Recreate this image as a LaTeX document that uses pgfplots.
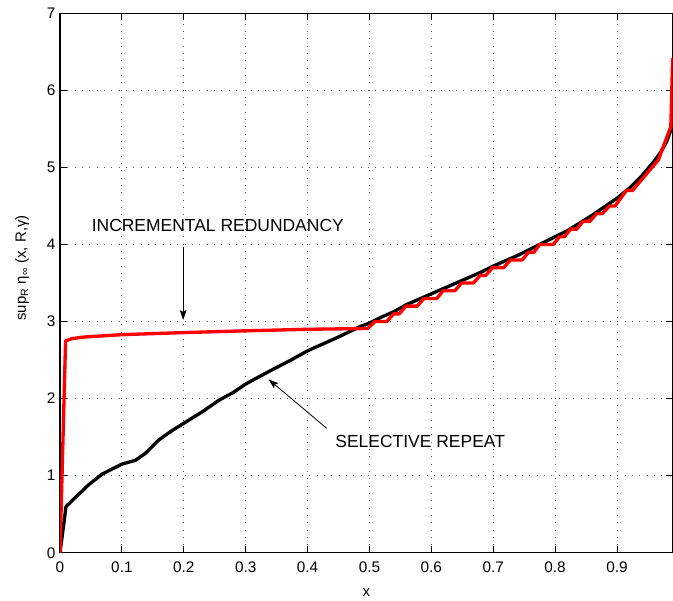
\documentclass[border=0pt]{standalone}
\usepackage{fontspec}
\setmainfont{Liberation Sans}
\usepackage{pgfplots}
\pgfplotsset{compat=1.18}
\usetikzlibrary{arrows.meta}

% selective repeat throughput bound
\pgfplotstableread{
x      y
0      0
0.0097 0.60
0.024  0.71
0.046  0.88
0.068  1.02
0.085  1.09
0.100  1.15
0.122  1.20
0.138  1.29
0.159  1.46
0.180  1.58
0.200  1.68
0.230  1.83
0.257  1.98
0.280  2.08
0.300  2.19
0.337  2.35
0.373  2.50
0.400  2.62
0.450  2.80
0.485  2.935
0.500  2.98
0.520  3.06
0.540  3.13
0.560  3.22
0.580  3.29
0.600  3.36
0.620  3.43
0.640  3.50
0.660  3.57
0.680  3.64
0.700  3.72
0.720  3.79
0.740  3.86
0.760  3.94
0.780  4.02
0.800  4.10
0.820  4.18
0.840  4.28
0.860  4.38
0.880  4.49
0.900  4.60
0.920  4.73
0.940  4.89
0.960  5.08
0.970  5.19
0.980  5.33
0.990  5.55
}\srdata

% incremental redundancy throughput bound
\pgfplotstableread{
x      y
0      0
0.009  2.75
0.020  2.78
0.040  2.80
0.100  2.83
0.200  2.857
0.300  2.88
0.400  2.90
0.497  2.91
0.509  3.0
0.528  3.0
0.539  3.1
0.548  3.1
0.559  3.2
0.577  3.2
0.588  3.3
0.609  3.3
0.619  3.4
0.638  3.4
0.649  3.5
0.668  3.5
0.679  3.6
0.688  3.6
0.699  3.7
0.717  3.7
0.728  3.8
0.747  3.8
0.757  3.9
0.766  3.9
0.775  4.0
0.797  4.0
0.807  4.1
0.815  4.1
0.825  4.2
0.835  4.2
0.845  4.3
0.856  4.3
0.867  4.4
0.876  4.4
0.888  4.5
0.897  4.5
0.915  4.7
0.925  4.7
0.967  5.1
0.987  5.53
0.990  6.42
}\irdata

\begin{document}
\begin{tikzpicture}
\begin{axis}[
  scale only axis,
  width=459.5pt, height=404.55pt,
  xmin=0, xmax=0.99, ymin=0, ymax=7,
  xtick={0,0.1,0.2,0.3,0.4,0.5,0.6,0.7,0.8,0.9},
  ytick={0,1,2,3,4,5,6,7},
  /pgf/number format/assume math mode=true,
  tick label style={font=\fontsize{11.5}{13}\selectfont},
  xticklabel style={yshift=-3.6pt},
  label style={font=\fontsize{11.2}{13}\selectfont},
  tick align=inside, tick pos=both,
  major tick length=5pt,
  every tick/.style={black, line width=0.6pt},
  axis line style={line width=1.1pt},
  grid=major,
  major grid style={black!65, line width=0.6pt, dash pattern=on 0.7pt off 4.8pt},
  xlabel={x},
  xlabel style={at={(axis description cs:0.5,-0.0729)}, anchor=center},
  ylabel={sup\textsubscript{R} η\textsubscript{∞}\ (x, R,γ)},
  ylabel style={at={(axis description cs:-0.0620,0.528)}, anchor=center},
]
\addplot[black, line width=2.5pt, line join=round] table[x=x, y=y] {\srdata};
\addplot[red, line width=2.5pt, line join=round] table[x=x, y=y] {\irdata};

\node[font=\fontsize{13.1}{15}\selectfont] at (axis cs:0.255,4.25) {INCREMENTAL REDUNDANCY};
\draw[line width=0.6pt, -{Stealth[length=7.5pt, width=5pt, inset=1.5pt]}]
  (axis cs:0.199,3.97) -- (axis cs:0.199,3.02);
\node[font=\fontsize{13.1}{15}\selectfont] at (axis cs:0.582,1.45) {SELECTIVE REPEAT};
\draw[line width=0.6pt, -{Stealth[length=7.5pt, width=5pt, inset=1.5pt]}]
  (axis cs:0.431,1.615) -- (axis cs:0.337,2.25);
\end{axis}
\pgfresetboundingbox
\path[use as bounding box]
  ([xshift=-45pt, yshift=-35.5pt]current axis.south west) rectangle
  ([xshift=0.25pt, yshift=10pt]current axis.north east);
\end{tikzpicture}
\end{document}
